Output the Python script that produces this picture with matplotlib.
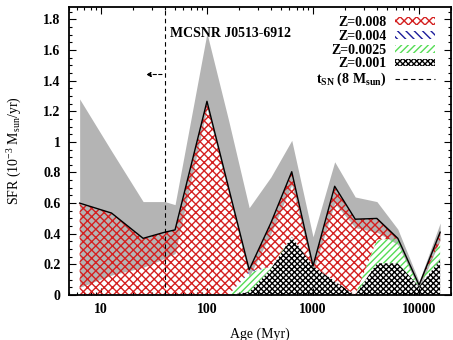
import matplotlib
matplotlib.use("Agg")
import matplotlib.pyplot as plt
import numpy as np
from matplotlib.ticker import FuncFormatter, MultipleLocator, LogLocator, NullFormatter

plt.rcParams['font.family'] = 'Liberation Serif'
plt.rcParams['font.weight'] = 'bold'
plt.rcParams['mathtext.fontset'] = 'custom'
plt.rcParams['mathtext.rm'] = 'Liberation Serif:bold'
plt.rcParams['mathtext.it'] = 'Liberation Serif:bold'
plt.rcParams['mathtext.default'] = 'regular'
plt.rcParams['hatch.linewidth'] = 1.0

# star formation history bins (Myr) and SFR per metallicity (1e-3 Msun/yr)
ages = [6.3, 12.6, 25, 40, 50, 100, 160, 250, 400, 630, 1000, 1600, 2500, 4000, 6300, 10000, 15800]
sfr_z001 = [0, 0, 0, 0, 0, 0, 0, 0.02, 0.17, 0.38, 0.19, 0.09, 0.0, 0.207, 0.207, 0.055, 0.23]
sfr_z0025 = [0, 0, 0, 0, 0, 0, 0, 0.125, 0.015, 0, 0, 0, 0, 0.153, 0.163, 0.01, 0.12]
sfr_z004 = [0, 0, 0, 0, 0, 0, 0, 0.01, 0, 0, 0, 0, 0, 0, 0, 0, 0]
sfr_z008 = [0.60, 0.535, 0.37, 0.41, 0.425, 1.265, 0.70, 0.01, 0.285, 0.425, 0.0, 0.62, 0.495, 0.14, 0.0, 0.0, 0.06]
# error band on the total
err_lo = [0.05, 0.13, 0.18, 0.24, 0.27, 1.22, 0.66, 0.12, 0.40, 0.72, 0.15, 0.60, 0.44, 0.41, 0.33, 0.04, 0.36]
err_hi = [1.28, 0.94, 0.61, 0.61, 0.59, 1.71, 1.14, 0.57, 0.77, 1.01, 0.38, 0.87, 0.64, 0.61, 0.43, 0.087, 0.47]

t_sn = 40  # Myr, lifetime of 8 Msun star

fig = plt.figure(figsize=(4.53, 3.40), dpi=100)
ax = fig.add_axes([0.1523, 0.1324, 0.8433, 0.8466])

ax.fill_between(ages, err_lo, err_hi, color='#b4b4b4', lw=0, zorder=1)

layers = [
    (sfr_z001, 'Z=0.001', 'black', 'xxxxxx'),
    (sfr_z0025, 'Z=0.0025', '#55dd55', '/////'),
    (sfr_z004, 'Z=0.004', '#1c1c9c', '\\\\\\\\'),
    (sfr_z008, 'Z=0.008', '#d42020', 'xxxx'),
]
base = np.zeros(len(ages))
handles = {}
for vals, lab, col, hatch in layers:
    top = base + np.array(vals)
    h = ax.fill_between(ages, base, top, facecolor='none', edgecolor=col,
                        hatch=hatch, lw=0, zorder=2, label=lab)
    handles[lab] = h
    base = top

ax.plot(ages, base, color='black', lw=1.0, zorder=3)

ln = ax.axvline(t_sn, color='black', lw=0.8, ls=(0, (4, 3)), zorder=4,
                label='t$_{SN}$ (8 M$_{sun}$)')
ax.annotate('', xy=(25, 1.44), xytext=(t_sn, 1.44),
            arrowprops=dict(arrowstyle='-|>', color='black', lw=0.8,
                            linestyle=(0, (3, 2)), mutation_scale=7))
ax.text(45, 1.71, 'MCSNR J0513-6912', fontsize=10, va='center', ha='left')

ax.set_xscale('log')
ax.set_xlim(5, 20000)
ax.set_ylim(0, 1.88)
ax.set_xticks([10, 100, 1000, 10000])
ax.set_xticklabels(['10', '100', '1000', '10000'])
ax.xaxis.set_minor_locator(LogLocator(base=10, subs=np.arange(2, 10)))
ax.xaxis.set_minor_formatter(NullFormatter())
ax.yaxis.set_major_locator(MultipleLocator(0.2))
ax.yaxis.set_minor_locator(MultipleLocator(0.05))
ax.yaxis.set_major_formatter(FuncFormatter(lambda v, p: '%g' % round(v, 2)))
ax.tick_params(which='both', direction='in', top=True, right=True, labelsize=10)
ax.tick_params(which='major', length=5, width=0.8)
ax.tick_params(which='minor', length=2.5, width=0.8)
ax.tick_params(axis='x', pad=6)
ax.tick_params(axis='y', pad=6)
for s in ax.spines.values():
    s.set_linewidth(1.3)

ax.set_xlabel('Age (Myr)', fontsize=10, labelpad=8)
ax.set_ylabel('SFR (10$^{-3}$ M$_{sun}$/yr)', fontsize=10, labelpad=14)

order = ['Z=0.008', 'Z=0.004', 'Z=0.0025', 'Z=0.001']
leg = ax.legend([handles[k] for k in order] + [ln], order + [ln.get_label()],
                loc='upper right', bbox_to_anchor=(0.958, 0.968), frameon=False,
                markerfirst=False, fontsize=10, handlelength=2.9, handleheight=0.5,
                labelspacing=0.05, borderaxespad=0, borderpad=0, handletextpad=0.6)

fig.savefig('out.png', dpi=100)
